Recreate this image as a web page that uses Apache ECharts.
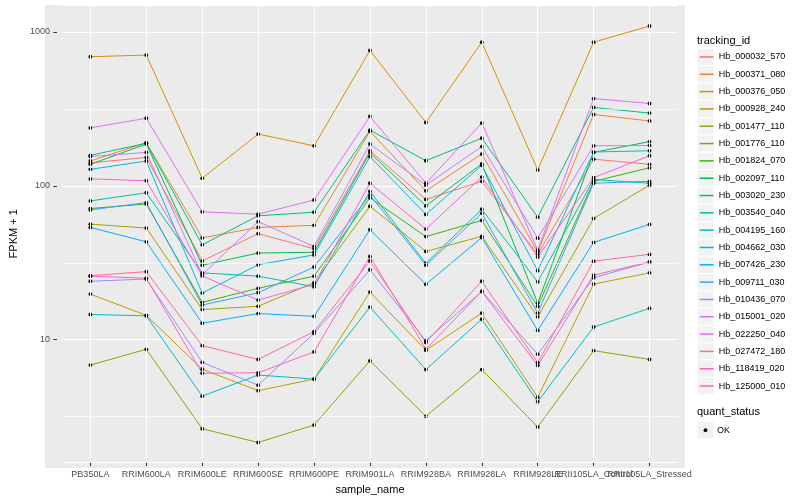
<!DOCTYPE html>
<html><head><meta charset="utf-8">
<script src="https://cdn.jsdelivr.net/npm/echarts@6/dist/echarts.min.js"></script>
<style>html,body{margin:0;padding:0;background:#fff}#c{width:800px;height:500px}</style>
</head><body><div id="c"></div>
<script>
const categories = ['PB350LA','RRIM600LA','RRIM600LE','RRIM600SE','RRIM600PE','RRIM901LA','RRIM928BA','RRIM928LA','RRIM928LE','RRII105LA_Control','RRII105LA_Stressed'];
const trackingIds = ['Hb_000032_570','Hb_000371_080','Hb_000376_050','Hb_000928_240','Hb_001477_110','Hb_001776_110','Hb_001824_070','Hb_002097_110','Hb_003020_230','Hb_003540_040','Hb_004195_160','Hb_004662_030','Hb_007426_230','Hb_009711_030','Hb_010436_070','Hb_015001_020','Hb_022250_040','Hb_027472_180','Hb_118419_020','Hb_125000_010'];

const hb_000032_570 = [141, 153, 32.5, 48.9, 39.0, 169, 81.6, 107, 35.9, 149, 138];
const hb_000371_080 = [145, 191, 45.9, 53.7, 55.4, 226, 92.9, 161, 37.2, 291, 264];
const hb_000376_050 = [690, 708, 112, 217, 182, 759, 258, 858, 127, 858, 1093];
const hb_000928_240 = [19.8, 14.4, 6.43, 4.67, 5.55, 20.4, 8.55, 14.9, 4.23, 23.0, 27.2];
const hb_001477_110 = [56.4, 53.2, 15.7, 16.5, 23.5, 73.7, 37.5, 47.0, 14.1, 61.4, 101];
const hb_001776_110 = [6.85, 8.67, 2.64, 2.15, 2.79, 7.3, 3.18, 6.4, 2.71, 8.5, 7.45];
const hb_001824_070 = [71.2, 76.3, 17.5, 21.6, 25.9, 83.7, 46.8, 59.6, 16.5, 107, 131];
const hb_002097_110 = [138, 187, 30.5, 36.6, 37.0, 164, 74.1, 139, 17.3, 165, 194];
const hb_003020_230 = [158, 189, 41.4, 63.9, 67.4, 230, 145.6, 204, 62.6, 323, 297];
const hb_003540_040 = [79.8, 90.2, 27.2, 25.9, 22.1, 91.9, 31.4, 70.5, 23.8, 110, 104];
const hb_004195_160 = [14.6, 14.3, 4.3, 5.9, 5.55, 16.3, 6.4, 13.6, 3.96, 12.1, 16.0];
const hb_004662_030 = [128, 145, 20.1, 30.7, 35.6, 155, 65.2, 136, 28.1, 166, 169];
const hb_007426_230 = [53.7, 43.3, 12.8, 14.8, 14.2, 51.9, 22.9, 46.1, 11.5, 42.9, 56.2];
const hb_009711_030 = [69.8, 77.8, 16.8, 20.2, 29.7, 87.1, 30.5, 66.4, 14.9, 104, 107];
const hb_010436_070 = [24.0, 24.8, 7.13, 5.07, 11.0, 28.5, 9.84, 20.6, 8.05, 25.3, 32.0];
const hb_015001_020 = [155, 165, 26.5, 58.5, 40.4, 187, 101, 180, 45.7, 182, 183];
const hb_022250_040 = [238, 275, 67.8, 65.5, 80.9, 283, 104, 256, 38.3, 369, 343];
const hb_027472_180 = [111, 108, 26.0, 18.1, 22.9, 104, 52.4, 114, 34.5, 113, 157];
const hb_118419_020 = [25.9, 25.1, 6.06, 6.1, 8.34, 34.8, 8.7, 20.6, 6.8, 26.3, 32.0];
const hb_125000_010 = [26.1, 27.7, 9.15, 7.45, 11.3, 32.5, 9.6, 24.0, 7.1, 32.4, 35.9];

const seriesValues = [hb_000032_570, hb_000371_080, hb_000376_050, hb_000928_240, hb_001477_110, hb_001776_110, hb_001824_070, hb_002097_110, hb_003020_230, hb_003540_040, hb_004195_160, hb_004662_030, hb_007426_230, hb_009711_030, hb_010436_070, hb_015001_020, hb_022250_040, hb_027472_180, hb_118419_020, hb_125000_010];
const palette = ['#F8766D','#EA8331','#D89000','#C09B00','#A3A500','#7CAE00','#39B600','#00BB4E','#00BF7D','#00C1A3','#00BFC4','#00BAE0','#00B0F6','#35A2FF','#9590FF','#C77CFF','#E76BF3','#FA62DB','#FF62BC','#FF6C91'];
const minorBreaks = [3.162, 31.62, 316.2];
const statusLevels = ['OK'];

const FONT = '"Liberation Sans", Arial, sans-serif';
const PANEL = {x: 45, y: 5, w: 640, h: 463};
const KEY = {x: 697, y: 48.3, w: 17, h: 17.32};

const chart = echarts.init(document.getElementById('c'), null, {renderer: 'canvas'});

const lineSeries = trackingIds.map((id, i) => ({
  name: id, type: 'line', data: seriesValues[i], color: palette[i],
  symbol: 'circle', symbolSize: 3.8, showSymbol: true,
  itemStyle: {color: '#000'}, lineStyle: {color: palette[i], width: 1},
  emphasis: {disabled: true}, z: 3, animation: false
}));

const gridSeries = {
  name: '__grid', type: 'line', data: [], z: 1, silent: true, animation: false,
  markLine: {
    silent: true, symbol: ['none', 'none'], label: {show: false}, animation: false,
    emphasis: {disabled: true},
    data: minorBreaks.map(v => ({yAxis: v, lineStyle: {color: '#fff', width: 0.55, type: 'solid'}}))
      .concat(categories.map(c => ({xAxis: c, lineStyle: {color: '#fff', width: 1.1, type: 'solid'}})))
  }
};

const graphics = [
  {type: 'rect', shape: {x: PANEL.x, y: PANEL.y, width: PANEL.w, height: PANEL.h}, style: {fill: '#EBEBEB'}, z: -1, silent: true},
  {type: 'text', x: 697, y: 40.7, style: {text: 'tracking_id', font: '11px ' + FONT, fill: '#000', verticalAlign: 'middle'}, z: 5},
  {type: 'text', x: 697, y: 412, style: {text: 'quant_status', font: '11px ' + FONT, fill: '#000', verticalAlign: 'middle'}, z: 5}
];
trackingIds.forEach((_, i) => {
  graphics.push({type: 'rect', shape: {x: KEY.x, y: KEY.y + i * KEY.h, width: KEY.w, height: KEY.h}, style: {fill: '#F2F2F2', stroke: '#fff', lineWidth: 1}, z: -1, silent: true});
});
statusLevels.forEach((s, i) => {
  const y0 = 421.5 + i * KEY.h;
  graphics.push({type: 'rect', shape: {x: KEY.x, y: y0, width: KEY.w, height: KEY.h}, style: {fill: '#F2F2F2', stroke: '#fff', lineWidth: 1}, z: -1, silent: true});
  graphics.push({type: 'circle', shape: {cx: KEY.x + KEY.w / 2, cy: y0 + KEY.h / 2, r: 1.9}, style: {fill: '#000'}, z: 5});
  graphics.push({type: 'text', x: 717, y: y0 + KEY.h / 2, style: {text: s, font: '9px ' + FONT, fill: '#000', verticalAlign: 'middle'}, z: 5});
});

// legend line icon box is 80% of itemHeight, so scale so rows are KEY.h apart
const legendItemH = KEY.h / 0.8;

chart.setOption({
  backgroundColor: '#fff',
  animation: false,
  grid: {left: 50.5, right: 122.5, top: 5, bottom: 32, containLabel: false},
  xAxis: {
    type: 'category', data: categories, boundaryGap: true,
    axisLine: {show: false},
    axisTick: {show: true, alignWithLabel: true, length: 3.5, lineStyle: {color: '#333', width: 1}},
    axisLabel: {interval: 0, color: '#4D4D4D', fontSize: 9, margin: 7.5, fontFamily: FONT, hideOverlap: false},
    splitLine: {show: false},
    name: 'sample_name', nameLocation: 'middle', nameGap: 14,
    nameTextStyle: {fontSize: 11, color: '#000', fontFamily: FONT}
  },
  yAxis: {
    type: 'log', logBase: 10, min: 1.591, max: 1497, offset: 5.5,
    axisLine: {show: false},
    axisTick: {show: true, length: 3.5, lineStyle: {color: '#333', width: 1}},
    axisLabel: {color: '#4D4D4D', fontSize: 9, margin: 7, fontFamily: FONT, showMinLabel: false, showMaxLabel: false,
      formatter: v => String(v)},
    splitLine: {show: true, lineStyle: {color: '#fff', width: 1.1}},
    name: 'FPKM + 1', nameLocation: 'middle', nameGap: 27, nameRotate: 90,
    nameTextStyle: {fontSize: 11, color: '#000', fontFamily: FONT}
  },
  legend: {
    data: trackingIds, orient: 'vertical', left: 698, top: KEY.y,
    itemWidth: 14, itemHeight: legendItemH, itemGap: 0, padding: 0,
    selectedMode: false,
    itemStyle: {color: 'rgba(0,0,0,0)', borderWidth: 0},
    lineStyle: {width: 1.5},
    textStyle: {fontSize: 9, color: '#000', fontFamily: FONT}
  },
  graphic: graphics,
  series: [gridSeries].concat(lineSeries)
});
</script></body></html>
